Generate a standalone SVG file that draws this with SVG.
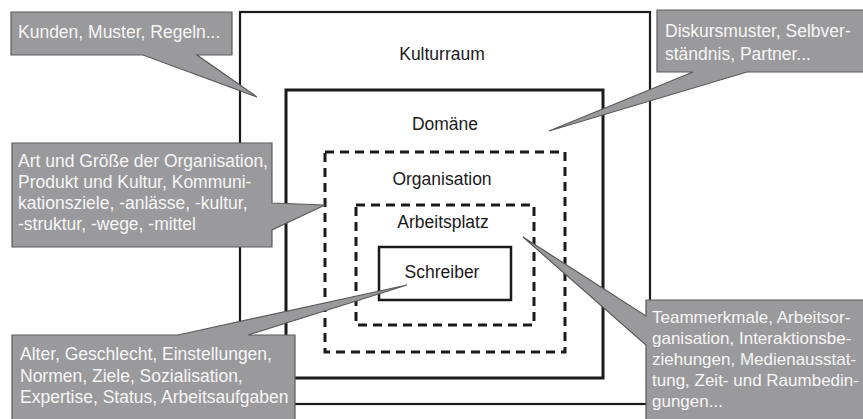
<svg xmlns="http://www.w3.org/2000/svg" width="863" height="419" viewBox="0 0 863 419">
<style>
.frame{fill:none;stroke:#1a1a1a}
.dash{fill:none;stroke:#1a1a1a;stroke-width:3;stroke-dasharray:9 6}
.lbl{font-family:"Liberation Sans",Arial,sans-serif;font-size:17.5px;fill:#1a1a1a;text-anchor:middle}
.call{fill:#9a9a9c;stroke:#5a5a5a;stroke-width:1.2;stroke-linejoin:miter}
.ct{font-family:"Liberation Sans",Arial,sans-serif;font-size:17.5px;fill:#f6f6f6}
.ct5{font-size:17px}
</style>
<rect width="863" height="419" fill="#ffffff"/>
<g id="kulturraum">
<rect class="frame" x="240" y="12" width="410" height="392" stroke-width="2.2"/>
<text class="lbl" x="442" y="60">Kulturraum</text>
</g>
<g id="domaene">
<rect class="frame" x="286" y="90" width="317" height="288" stroke-width="3"/>
<text class="lbl" x="445" y="130">Domäne</text>
</g>
<g id="organisation">
<rect class="dash" x="325" y="152" width="240" height="200"/>
<text class="lbl" x="442" y="185">Organisation</text>
</g>
<g id="arbeitsplatz">
<rect class="dash" x="356" y="205" width="178" height="120"/>
<text class="lbl" x="443" y="228">Arbeitsplatz</text>
</g>
<g id="schreiber">
<rect class="frame" x="379" y="247" width="132" height="53" stroke-width="2.5"/>
<text class="lbl" x="442" y="278">Schreiber</text>
</g>
<g id="connectors">
<g id="callout-kultur">
<path class="call" d="M11,12 H232 V55 H197 L257,97 L143,55 H11 Z"/>
<text class="ct" x="18" y="38">Kunden, Muster, Regeln...</text>
</g>
<g id="callout-domaene">
<path class="call" d="M657,10 H866 V72 H747 L549,131 L693,72 H657 Z"/>
<text class="ct" x="665" y="37">Diskursmuster, Selbver-</text>
<text class="ct" x="665" y="60">ständnis, Partner...</text>
</g>
<g id="callout-organisation">
<path class="call" d="M12,143 H272 V203 L325,205 L272,230 V247 H12 Z"/>
<text class="ct" x="18" y="167">Art und Größe der Organisation,</text>
<text class="ct" x="18" y="188">Produkt und Kultur, Kommuni-</text>
<text class="ct" x="18" y="209">kationsziele, -anlässe, -kultur,</text>
<text class="ct" x="18" y="230">-struktur, -wege, -mittel</text>
</g>
<g id="callout-schreiber">
<path class="call" d="M12,335 H178 L407,285 L248,335 H295 V422 H12 Z"/>
<text class="ct" x="20" y="360">Alter, Geschlecht, Einstellungen,</text>
<text class="ct" x="20" y="381.5">Normen, Ziele, Sozialisation,</text>
<text class="ct" x="20" y="403">Expertise, Status, Arbeitsaufgaben</text>
</g>
<g id="callout-arbeitsplatz">
<path class="call" d="M646,300 H866 V422 H646 V345 L523,237 L646,316 Z"/>
<text class="ct ct5" x="652" y="323">Teammerkmale, Arbeitsor-</text>
<text class="ct ct5" x="652" y="344">ganisation, Interaktionsbe-</text>
<text class="ct ct5" x="652" y="365">ziehungen, Medienausstat-</text>
<text class="ct ct5" x="652" y="386">tung, Zeit- und Raumbedin-</text>
<text class="ct ct5" x="652" y="407">gungen...</text>
</g>
</g>
</svg>
